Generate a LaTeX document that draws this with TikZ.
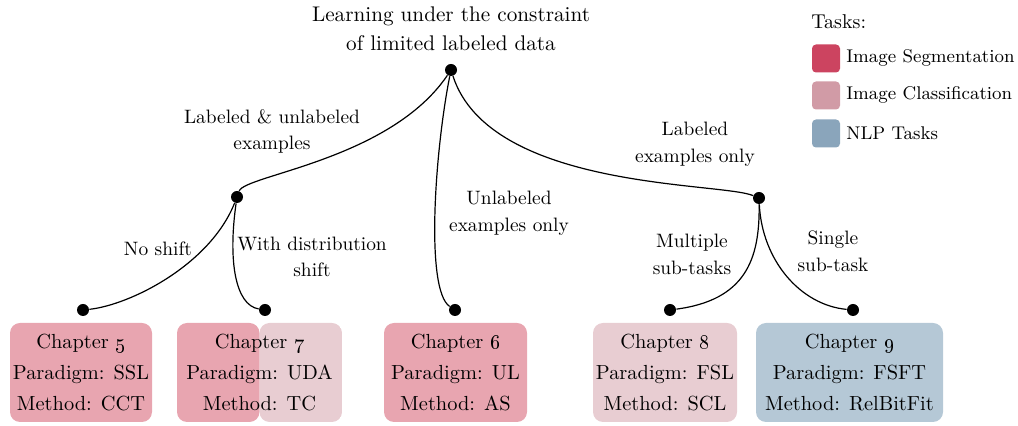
\documentclass[tikz,border=0pt]{standalone}
\usetikzlibrary{positioning}
\definecolor{segC}{HTML}{CC4460}
\definecolor{clsC}{HTML}{D19BA6}
\definecolor{nlpC}{HTML}{8AA5BB}
\definecolor{boxSeg}{HTML}{E8A5B0}
\definecolor{boxCls}{HTML}{E8CDD2}
\definecolor{boxNlp}{HTML}{B5C8D6}
\tikzset{
  dot/.style={circle, fill=black, inner sep=0pt, minimum size=6pt},
  edge/.style={line width=0.6pt},
  chbox/.style={rounded corners=5pt, minimum height=49.5pt, inner sep=0pt, align=center, font=\fontsize{10.2}{15.5}\selectfont},
  lbl/.style={align=center, inner sep=0pt, font=\fontsize{9.7}{13.3}\selectfont},
  legsq/.style={rounded corners=2pt, minimum size=14pt, inner sep=0pt},
  legtxt/.style={anchor=west, inner sep=0pt, font=\fontsize{9.2}{11}\selectfont},
}
\begin{document}
\begin{tikzpicture}[x=0.5pt,y=-0.5pt, font=\fontsize{10.6}{14.5}\selectfont]
\useasboundingbox (0,0) rectangle (1018,426);
% title
\node[align=center, inner sep=0pt] (title) at (451,28.5) {Learning under the constraint\\of limited labeled data};
% dots
\node[dot] (root) at (451,70) {};
\node[dot] (ll) at (237,197) {};
\node[dot] (rr) at (759,198) {};
\node[dot] (d5) at (83,310) {};
\node[dot] (d7) at (265,310) {};
\node[dot] (d6) at (455,310) {};
\node[dot] (d8) at (670,310) {};
\node[dot] (d9) at (853,310) {};
% edges
\draw[edge] (root) .. controls (390,160) and (245,175) .. (ll);
\draw[edge] (root) .. controls (435,150) and (425,290) .. (d6);
\draw[edge] (root) .. controls (490,190) and (720,182) .. (rr);
\draw[edge] (ll) .. controls (210,265) and (130,305) .. (d5);
\draw[edge] (ll) .. controls (228,260) and (235,305) .. (d7);
\draw[edge] (rr) .. controls (760,260) and (745,300) .. (d8);
\draw[edge] (rr) .. controls (762,260) and (800,305) .. (d9);
% edge labels
\node[lbl] (l1) at (272,131.5) {Labeled \& unlabeled\\examples};
\node[lbl] (l2) at (509,213) {Unlabeled\\examples only};
\node[lbl] (l3) at (695,144) {Labeled\\examples only};
\node[lbl] (l4) at (158,249) {No shift};
\node[lbl] (l5) at (312,257) {With distribution\\shift};
\node[lbl] (l6) at (692,254.5) {Multiple\\sub-tasks};
\node[lbl] (l7) at (833,251.5) {Single\\sub-task};
% chapter boxes
\node[chbox, fill=boxSeg, minimum width=71pt] (c5) at (81,372.5) {Chapter \oldstylenums{5}\\Paradigm: SSL\\Method: CCT};
\node[chbox, minimum width=82.5pt, path picture={
  \fill[boxSeg] (path picture bounding box.south west) rectangle (path picture bounding box.north);
  \fill[boxCls] (path picture bounding box.south) rectangle (path picture bounding box.north east);}] (c7) at (259.5,372.5) {Chapter \oldstylenums{7}\\Paradigm: UDA\\Method: TC};
\node[chbox, fill=boxSeg, minimum width=71.5pt] (c6) at (455.5,372.5) {Chapter \oldstylenums{6}\\Paradigm: UL\\Method: AS};
\node[chbox, fill=boxCls, minimum width=72pt] (c8) at (665,372.5) {Chapter \oldstylenums{8}\\Paradigm: FSL\\Method: SCL};
\node[chbox, fill=boxNlp, minimum width=93.5pt] (c9) at (849.5,372.5) {Chapter \oldstylenums{9}\\Paradigm: FSFT\\Method: RelBitFit};
% legend
\node[anchor=west, inner sep=0pt, font=\fontsize{10}{12}\selectfont] (tasks) at (811,22) {Tasks:};
\node[legsq, fill=segC] (s1) at (826,58.5) {};
\node[legsq, fill=clsC] (s2) at (826,95.5) {};
\node[legsq, fill=nlpC] (s3) at (826,133.5) {};
\node[legtxt] (t1) at (846,58) {Image Segmentation};
\node[legtxt] (t2) at (846,95) {Image Classification};
\node[legtxt] (t3) at (846,133) {NLP Tasks};
\end{tikzpicture}
\end{document}
